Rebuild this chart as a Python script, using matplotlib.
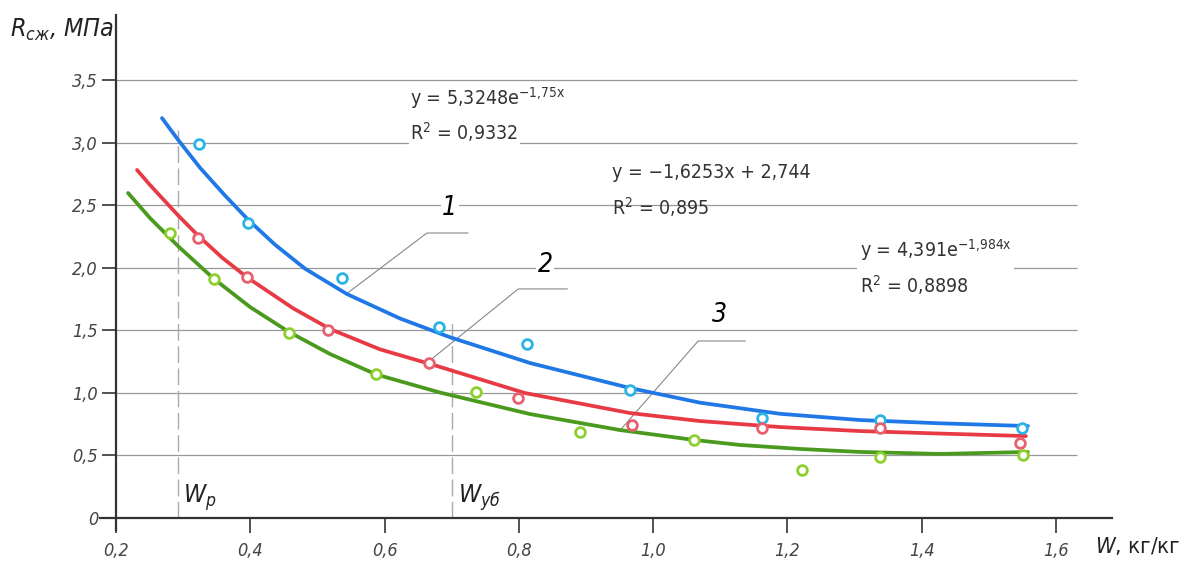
import numpy as np
import matplotlib
matplotlib.use('Agg')
import matplotlib.pyplot as plt

plt.rcParams['font.family'] = ['DejaVu Sans']
plt.rcParams['font.stretch'] = 'condensed'
plt.rcParams['mathtext.fontset'] = 'custom'
plt.rcParams['mathtext.rm'] = 'DejaVu Sans:stretch=condensed'
plt.rcParams['mathtext.it'] = 'DejaVu Sans:style=italic:stretch=condensed'

# измеренные точки
x1 = [0.324, 0.397, 0.537, 0.681, 0.812, 0.965, 1.162, 1.338, 1.549]
y1 = [2.99, 2.36, 1.92, 1.53, 1.39, 1.02, 0.80, 0.78, 0.72]
x2 = [0.322, 0.395, 0.516, 0.666, 0.799, 0.968, 1.162, 1.338, 1.546]
y2 = [2.24, 1.93, 1.50, 1.24, 0.96, 0.74, 0.72, 0.72, 0.60]
x3 = [0.280, 0.346, 0.458, 0.587, 0.736, 0.891, 1.061, 1.222, 1.338, 1.551]
y3 = [2.28, 1.91, 1.48, 1.15, 1.01, 0.69, 0.62, 0.38, 0.49, 0.50]

# линии тренда
cx1 = [0.2685, 0.2923, 0.3251, 0.3623, 0.3966, 0.4368, 0.4815, 0.544, 0.6229, 0.6974, 0.8165,
       0.9655, 1.0697, 1.1888, 1.308, 1.427, 1.558]
cy1 = [3.197, 3.024, 2.800, 2.578, 2.385, 2.185, 1.993, 1.790, 1.595, 1.445, 1.239,
       1.039, 0.922, 0.833, 0.783, 0.757, 0.735]
cx2 = [0.2313, 0.2506, 0.2923, 0.3221, 0.3579, 0.3951, 0.4636, 0.5187, 0.5932, 0.675, 0.809,
       0.9655, 1.0697, 1.1888, 1.308, 1.427, 1.555]
cy2 = [2.782, 2.662, 2.420, 2.258, 2.082, 1.924, 1.677, 1.511, 1.348, 1.220, 0.999,
       0.839, 0.775, 0.727, 0.695, 0.675, 0.655]
cx3 = [0.2179, 0.2506, 0.2923, 0.346, 0.3995, 0.4576, 0.5187, 0.5872, 0.6825, 0.8165, 0.9506,
       1.0608, 1.129, 1.2186, 1.308, 1.427, 1.558]
cy3 = [2.598, 2.398, 2.174, 1.911, 1.687, 1.487, 1.311, 1.148, 1.003, 0.831, 0.703,
       0.624, 0.584, 0.552, 0.528, 0.512, 0.528]

xticks = [0.2, 0.4, 0.6, 0.8, 1.0, 1.2, 1.4, 1.6]
xlabels = ['0,2', '0,4', '0,6', '0,8', '1,0', '1,2', '1,4', '1,6']
yticks = [0, 0.5, 1.0, 1.5, 2.0, 2.5, 3.0, 3.5]
ylabels = ['0', '0,5', '1,0', '1,5', '2,0', '2,5', '3,0', '3,5']

w_p = 0.292
w_ub = 0.700

fig = plt.figure(figsize=(11.94, 5.61), dpi=100)
ax = fig.add_axes([100/1194, 31/561, 1012/1194, 515/561])
ax.set_xlim(0.17617, 1.68325)
ax.set_ylim(-0.0959, 4.0208)

for s in ['top', 'right']:
    ax.spines[s].set_visible(False)
ax.spines['left'].set_position(('data', 0.2))
ax.spines['bottom'].set_position(('data', 0))
for s in ['left', 'bottom']:
    ax.spines[s].set_linewidth(1.6)
    ax.spines[s].set_color('#333333')

ax.set_xticks(xticks)
ax.set_xticklabels(xlabels, style='italic', fontsize=13)
ax.set_yticks(yticks)
ax.set_yticklabels(ylabels, style='italic', fontsize=13)
ax.tick_params(axis='x', direction='out', length=11, width=1.2, pad=6, colors='#333333', labelcolor='#444444')
ax.tick_params(axis='y', direction='out', length=10, width=1.2, pad=3, colors='#333333', labelcolor='#444444')

# сетка
ax.hlines(yticks[1:], 0.2, 1.631, color='#999999', lw=0.9, zorder=1)

# вертикальные штриховые линии
ax.vlines([w_p], 0, 3.10, color='#aaaaaa', lw=1.0, linestyles=(0, (12, 4)), zorder=1)
ax.vlines([w_ub], 0, 1.60, color='#aaaaaa', lw=1.0, linestyles=(0, (12, 4)), zorder=1)
ax.text(0.2998, 0.12, r'$W_{р}$', fontsize=18, va='baseline', ha='left', color='#222222')
ax.text(0.709, 0.12, r'$W_{уб}$', fontsize=18, va='baseline', ha='left', color='#222222')

# кривые
ax.plot(cx1, cy1, color='#1f78e6', lw=2.7, solid_capstyle='round', solid_joinstyle='round', zorder=3)
ax.plot(cx2, cy2, color='#e83a44', lw=2.7, solid_capstyle='round', solid_joinstyle='round', zorder=3)
ax.plot(cx3, cy3, color='#4a9a1e', lw=2.7, solid_capstyle='round', solid_joinstyle='round', zorder=3)

ax.plot(x1, y1, 'o', ms=7, mew=2, mfc='white', mec='#2ab4e6', zorder=4)
ax.plot(x2, y2, 'o', ms=7, mew=2, mfc='white', mec='#e8606e', zorder=4)
ax.plot(x3, y3, 'o', ms=7, mew=2, mfc='white', mec='#8ccf2e', zorder=4)

# выноски
lead1 = ([0.544, 0.663, 0.724], [1.795, 2.278, 2.278])
lead2 = ([0.672, 0.799, 0.872], [1.279, 1.831, 1.831])
lead3 = ([0.951, 1.067, 1.137], [0.703, 1.415, 1.415])
for lx, ly in [lead1, lead2, lead3]:
    ax.plot(lx, ly, color='#888888', lw=0.8, zorder=2)
box = dict(facecolor='white', edgecolor='none', pad=1)
ax.text(0.697, 2.478, '1', fontsize=19, style='italic', ha='center', va='center', bbox=box, zorder=2)
ax.text(0.839, 2.022, '2', fontsize=19, style='italic', ha='center', va='center', bbox=box, zorder=2)
ax.text(1.0995, 1.623, '3', fontsize=19, style='italic', ha='center', va='center', bbox=box, zorder=2)

# уравнения
ax.text(0.6378, 3.357, r'y = 5,3248e$^{\mathrm{-1{,}75x}}$', fontsize=14, va='center', ha='left',
        color='#333333', bbox=box, zorder=2)
ax.text(0.6378, 3.086, r'R$^{2}$ = 0,9332', fontsize=14, va='center', ha='left',
        color='#333333', bbox=box, zorder=2)
ax.text(0.939, 2.758, 'y = \u22121,6253x + 2,744', fontsize=14, va='center', ha='left', color='#333333')
ax.text(0.939, 2.487, r'R$^{2}$ = 0,895', fontsize=14, va='center', ha='left', color='#333333')
ax.text(1.308, 2.006, 'y = 4,391e$^{\\mathrm{-1{,}984x}}$\nR$^{2}$ = 0,8898', fontsize=14, va='center',
        ha='left', color='#333333', linespacing=1.5, bbox=dict(facecolor='white', edgecolor='none', pad=2), zorder=2)

# подписи осей
fig.text(10/1194, 1 - 37/561, r'$R_{сж}$, МПа', fontsize=18, style='italic', color='#222222')
fig.text(1095/1194, 1 - 553/561, r'$W$, кг/кг', fontsize=16, color='#222222')

fig.savefig('out.png', dpi=100)
